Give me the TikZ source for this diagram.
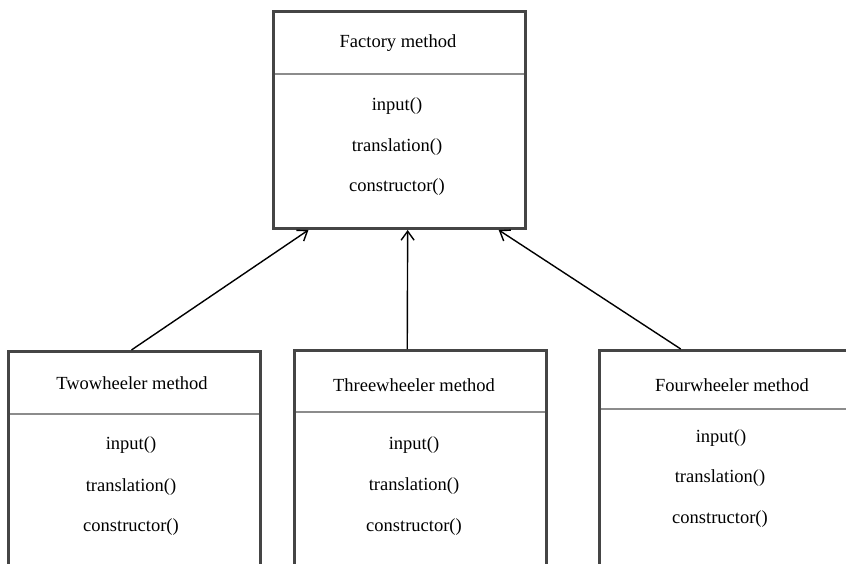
\documentclass[tikz,border=0pt]{standalone}
\usepackage{fontspec}
\setmainfont{Liberation Serif}
\newfontfamily\classfont{Liberation Serif}
\usetikzlibrary{arrows.meta,calc}
\definecolor{boxgray}{HTML}{454545}
\definecolor{rulegray}{HTML}{8C8C8C}
\begin{document}
\begin{tikzpicture}[x=1pt,y=-1pt,
  classbox/.style={draw=boxgray, line width=3pt, rectangle, inner sep=0pt, anchor=north west},
  divider/.style={draw=rulegray, line width=1.3pt},
  txt/.style={font=\classfont\fontsize{18.5}{22}\selectfont, inner sep=0pt},
  inherit/.style={draw=black, line width=1.4pt, -{Straight Barb[length=9pt,width=13pt,line width=1.4pt]}}]
\useasboundingbox (0,0) rectangle (846,564);
\clip (0,0) rectangle (846,564);

% compartment rules
\draw[divider] (272,74) -- (524,74);
\draw[divider] (7,414) -- (259,414);
\draw[divider] (293,412) -- (545,412);
\draw[divider] (598,409) -- (900,409);

% class boxes
\node[classbox, minimum width=252pt, minimum height=217pt] (fac) at (272,10) {};
\node[classbox, minimum width=252pt, minimum height=260pt] (two) at (7,350) {};
\node[classbox, minimum width=252pt, minimum height=260pt] (three) at (293,349) {};
\node[classbox, minimum width=300pt, minimum height=260pt] (four) at (598,349) {};

% Factory method
\node[txt] (facT) at (398,43) {Factory method};
\node[txt] (facA) at (397,106) {input()};
\node[txt] (facB) at (397,147) {translation()};
\node[txt] (facC) at (397,187) {constructor()};

% Twowheeler method
\node[txt] (twoT) at (132,383) {Twowheeler method};
\node[txt] (twoA) at (131,445) {input()};
\node[txt] (twoB) at (131,487) {translation()};
\node[txt] (twoC) at (131,527) {constructor()};

% Threewheeler method
\node[txt] (threeT) at (414,385) {Threewheeler method};
\node[txt] (threeA) at (414,445) {input()};
\node[txt] (threeB) at (414,486) {translation()};
\node[txt] (threeC) at (414,527) {constructor()};

% Fourwheeler method
\node[txt] (fourT) at (732,385) {Fourwheeler method};
\node[txt] (fourA) at (721,438) {input()};
\node[txt] (fourB) at (720,478) {translation()};
\node[txt] (fourC) at (720,519) {constructor()};

% inheritance arrows
\draw[inherit] ($(two.north west)!0.488!(two.north east)$) -- ($(fac.south west)!0.143!(fac.south east)$);
\draw[inherit] ($(three.north west)!0.448!(three.north east)$) -- ($(fac.south west)!0.532!(fac.south east)$);
\draw[inherit] ($(four.north west)!0.273!(four.north east)$) -- ($(fac.south west)!0.889!(fac.south east)$);
\end{tikzpicture}
\end{document}
